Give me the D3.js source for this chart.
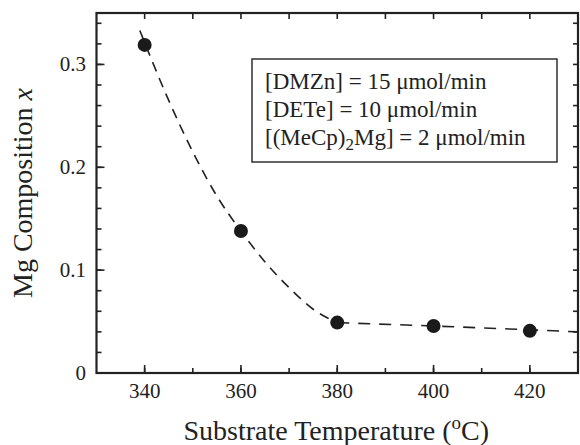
<!DOCTYPE html>
<html>
<head>
<meta charset="utf-8">
<script src="https://cdn.jsdelivr.net/npm/d3@7"></script>
<style>
  body{margin:0;background:#fff;}
  text{font-family:"Liberation Serif","Times New Roman",serif;fill:#222;}
</style>
</head>
<body>
<svg id="chart"></svg>
<script>
// measured points
var temps = [340, 360, 380, 400, 420];
var mgComp = [0.319, 0.138, 0.049, 0.0457, 0.041];

// dashed guide curve
var curveX = [339, 345, 350, 355, 360, 365, 370, 375, 380];
var curveY = [0.333, 0.265, 0.215, 0.172, 0.138, 0.108, 0.083, 0.062, 0.049];
var tailX = [380, 400, 420, 430];
var tailY = [0.049, 0.0457, 0.042, 0.040];

var xTicks = [340, 360, 380, 400, 420];
var yTicks = [0, 0.1, 0.2, 0.3];
var yTickLabels = ["0", "0.1", "0.2", "0.3"];

var legendLines = [
  ["[DMZn] = 15 \u03bcmol/min"],
  ["[DETe] = 10 \u03bcmol/min"],
  ["[(MeCp)", "2", "Mg] = 2 \u03bcmol/min"]
];

var width = 580, height = 445;
var margin = {top: 13, right: 2, bottom: 72, left: 96.5};

var svg = d3.select("#chart")
            .attr("width", width)
            .attr("height", height);

var x = d3.scaleLinear()
          .domain([330, 430])
          .range([margin.left, width - margin.right]);
var y = d3.scaleLinear()
          .domain([0, 0.35])
          .range([height - margin.bottom, margin.top]);

var x0 = x.range()[0], x1 = x.range()[1];
var y0 = y.range()[0], y1 = y.range()[1];

// inward ticks on all sides
var minorX = d3.range(340, 430, 10);
var minorY = d3.range(0.02, 0.35, 0.02);

function tickLines(cls, data, fn){
  svg.append("g").selectAll("line." + cls)
     .data(data)
     .enter()
     .append("line")
     .attr("class", cls)
     .each(function(d){
       var p = fn(d);
       d3.select(this).attr("x1", p[0]).attr("y1", p[1]).attr("x2", p[2]).attr("y2", p[3]);
     })
     .attr("stroke", "#222")
     .attr("stroke-width", 1.6);
}

// bottom
tickLines("bmin", minorX, function(d){ return [x(d), y0, x(d), y0 - 5]; });
tickLines("bmaj", xTicks, function(d){ return [x(d), y0, x(d), y0 - 8]; });
// top
tickLines("tmin", minorX, function(d){ return [x(d), y1, x(d), y1 + 6]; });
// left
tickLines("lmin", minorY, function(d){ return [x0, y(d), x0 + 5, y(d)]; });
tickLines("lmaj", yTicks, function(d){ return [x0, y(d), x0 + 8, y(d)]; });
// right
tickLines("rmin", minorY, function(d){ return [x1, y(d), x1 - 5, y(d)]; });

// frame
svg.append("rect")
   .attr("x", x0).attr("y", y1)
   .attr("width", x1 - x0).attr("height", y0 - y1)
   .attr("fill", "none")
   .attr("stroke", "#222")
   .attr("stroke-width", 2.2);

// tick labels
svg.selectAll("text.xl")
   .data(xTicks)
   .enter()
   .append("text")
   .attr("class", "xl")
   .attr("x", function(d){ return x(d); })
   .attr("y", 398)
   .attr("text-anchor", "middle")
   .attr("font-size", 21)
   .text(function(d){ return d; });

svg.selectAll("text.yl")
   .data(yTicks)
   .enter()
   .append("text")
   .attr("class", "yl")
   .attr("x", 86)
   .attr("y", function(d){ return y(d) + 7; })
   .attr("text-anchor", "end")
   .attr("font-size", 21)
   .text(function(d, i){ return yTickLabels[i]; });

// axis titles
var xt = svg.append("text")
   .attr("x", (x0 + x1) / 2 - 1)
   .attr("y", 440)
   .attr("text-anchor", "middle")
   .attr("font-size", 28);
xt.append("tspan").text("Substrate Temperature (");
xt.append("tspan").attr("font-size", 19).attr("dy", -11).text("o");
xt.append("tspan").attr("dy", 11).text("C)");

var yt = svg.append("text")
   .attr("transform", "translate(32," + ((y0 + y1) / 2) + ") rotate(-90)")
   .attr("text-anchor", "middle")
   .attr("font-size", 28);
yt.append("tspan").text("Mg Composition ");
yt.append("tspan").attr("font-style", "italic").text("x");

// dashed guide
var line = d3.line()
             .x(function(d){ return x(d[0]); })
             .y(function(d){ return y(d[1]); });

svg.append("path")
   .datum(d3.zip(curveX, curveY))
   .attr("d", line.curve(d3.curveMonotoneX))
   .attr("fill", "none")
   .attr("stroke", "#222")
   .attr("stroke-width", 1.6)
   .attr("stroke-dasharray", "10,7");

svg.append("path")
   .datum(d3.zip(tailX, tailY))
   .attr("d", line.curve(d3.curveLinear))
   .attr("fill", "none")
   .attr("stroke", "#222")
   .attr("stroke-width", 1.6)
   .attr("stroke-dasharray", "12,9");

// points
svg.selectAll("circle")
   .data(d3.zip(temps, mgComp))
   .enter()
   .append("circle")
   .attr("cx", function(d){ return x(d[0]); })
   .attr("cy", function(d){ return y(d[1]); })
   .attr("r", 7)
   .attr("fill", "#1a1a1a");

// legend box
svg.append("rect")
   .attr("x", 252).attr("y", 59)
   .attr("width", 305).attr("height", 103)
   .attr("fill", "#fff")
   .attr("stroke", "#222")
   .attr("stroke-width", 1.4);

legendLines.forEach(function(parts, i){
  var t = svg.append("text")
             .attr("x", 265)
             .attr("y", 89 + i * 28)
             .attr("font-size", 23);
  if(parts.length === 1){
    t.text(parts[0]);
  } else {
    t.append("tspan").text(parts[0]);
    t.append("tspan").attr("font-size", 17).attr("dy", 5).text(parts[1]);
    t.append("tspan").attr("dy", -5).text(parts[2]);
  }
});
</script>
</body>
</html>
